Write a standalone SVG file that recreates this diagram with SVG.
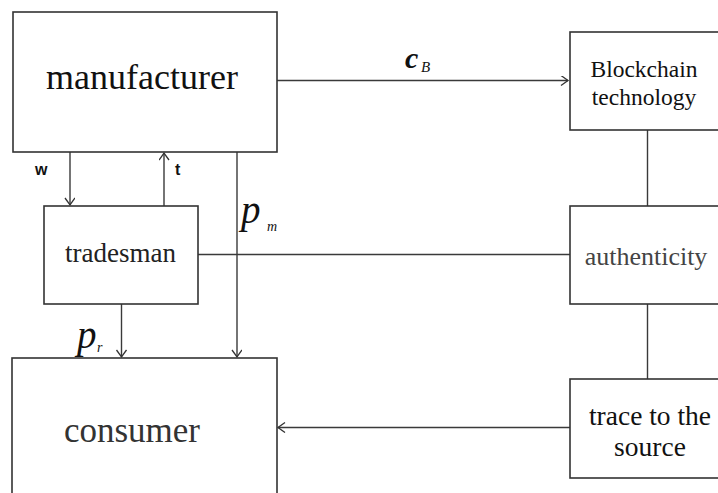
<svg xmlns="http://www.w3.org/2000/svg" width="718" height="493" viewBox="0 0 718 493">
<defs>
<marker id="arr" markerWidth="10" markerHeight="12" refX="8" refY="5" orient="auto" markerUnits="userSpaceOnUse">
<path d="M1,0 L8,5 L1,10" fill="none" stroke="#333" stroke-width="1.3"/>
</marker>
</defs>
<rect width="718" height="493" fill="#fff"/>
<g id="connectors" fill="none" stroke="#3a3a3a" stroke-width="1.4">
<line x1="277" y1="80.5" x2="568" y2="80.5" marker-end="url(#arr)"/>
<line x1="70" y1="152" x2="70" y2="205" marker-end="url(#arr)"/>
<line x1="164" y1="206" x2="164" y2="153" marker-end="url(#arr)"/>
<line x1="237" y1="152" x2="237" y2="357" marker-end="url(#arr)"/>
<line x1="121.5" y1="304" x2="121.5" y2="357" marker-end="url(#arr)"/>
<line x1="198" y1="254.5" x2="570" y2="254.5"/>
<line x1="647.5" y1="130" x2="647.5" y2="206"/>
<line x1="647.5" y1="304" x2="647.5" y2="379"/>
<line x1="570" y1="427.5" x2="278" y2="427.5" marker-end="url(#arr)"/>
</g>
<g id="labels" fill="#111" stroke="none">
<text x="35" y="175" font-family="Liberation Sans" font-weight="bold" font-size="16">w</text>
<text x="175" y="175" font-family="Liberation Sans" font-weight="bold" font-size="16">t</text>
<text x="405" y="68" font-family="Liberation Serif" font-style="italic" font-weight="bold" font-size="30">c</text>
<text x="421" y="72" font-family="Liberation Serif" font-style="italic" font-size="15">B</text>
<text x="241" y="223" font-family="Liberation Serif" font-style="italic" font-size="39">p</text>
<text x="267" y="231" font-family="Liberation Serif" font-style="italic" font-size="14">m</text>
<text x="77" y="348" font-family="Liberation Serif" font-style="italic" font-size="39">p</text>
<text x="97" y="352" font-family="Liberation Serif" font-style="italic" font-size="14">r</text>
</g>
<g id="manufacturer">
<rect x="13" y="12" width="264" height="140" fill="#fff" stroke="#333" stroke-width="1.6"/>
<text x="142" y="89" font-family="Liberation Serif" text-anchor="middle" font-size="36" fill="#111">manufacturer</text>
</g>
<g id="tradesman">
<rect x="44" y="206" width="154" height="98" fill="#fff" stroke="#333" stroke-width="1.6"/>
<text x="120.5" y="262" font-family="Liberation Serif" text-anchor="middle" font-size="27" fill="#222">tradesman</text>
</g>
<g id="consumer">
<rect x="12" y="358" width="265" height="160" fill="#fff" stroke="#333" stroke-width="1.6"/>
<text x="132" y="442" font-family="Liberation Serif" text-anchor="middle" font-size="35" fill="#333">consumer</text>
</g>
<g id="blockchain">
<rect x="570" y="32" width="170" height="98" fill="#fff" stroke="#333" stroke-width="1.6"/>
<text x="644" y="77" font-family="Liberation Serif" text-anchor="middle" font-size="23.5" fill="#111">Blockchain</text>
<text x="644" y="105" font-family="Liberation Serif" text-anchor="middle" font-size="23.5" fill="#111">technology</text>
</g>
<g id="authenticity">
<rect x="570" y="206" width="170" height="98" fill="#fff" stroke="#333" stroke-width="1.6"/>
<text x="646" y="264.5" font-family="Liberation Serif" text-anchor="middle" font-size="26" fill="#444">authenticity</text>
</g>
<g id="trace">
<rect x="570" y="379" width="170" height="99" fill="#fff" stroke="#333" stroke-width="1.6"/>
<text x="650" y="425" font-family="Liberation Serif" text-anchor="middle" font-size="27.5" fill="#111">trace to the</text>
<text x="650" y="456" font-family="Liberation Serif" text-anchor="middle" font-size="27.5" fill="#111">source</text>
</g>
</svg>
